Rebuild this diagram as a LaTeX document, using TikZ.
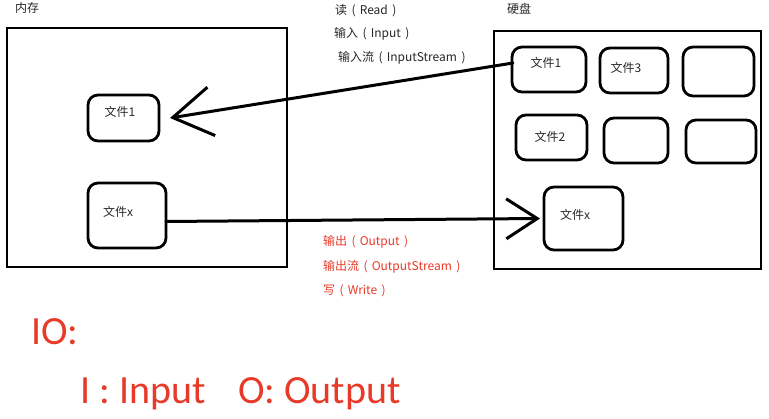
\documentclass[tikz,border=0pt]{standalone}
\usepackage{fontspec}
\setmainfont{Noto Sans CJK SC}
\newfontfamily\bigfont{Carlito}
\usetikzlibrary{arrows.meta,calc}
\definecolor{ioRed}{RGB}{232,58,40}
\definecolor{ioText}{RGB}{40,40,40}
\newcommand{\ioparen}[1]{\hspace{4.5pt}(\hspace{4pt}#1\hspace{4.5pt})}
\begin{document}
\begin{tikzpicture}[x=1pt,y=-1pt,
  bigbox/.style={draw=black,line width=2.8pt,minimum width=#1,inner sep=0pt,outer sep=0pt},
  filebox/.style={draw=black,line width=2.8pt,rounded corners=10pt,inner sep=0pt,outer sep=0pt},
  ftext/.style={font=\fontsize{12}{14}\selectfont,text=ioText,inner sep=0pt},
  lbl/.style={font=\fontsize{12}{14}\selectfont,text=ioText,inner sep=0pt,anchor=base west},
  redlbl/.style={font=\fontsize{12}{14}\selectfont,text=ioRed,inner sep=0pt,anchor=base west},
  bigtxt/.style={font=\bigfont\fontsize{40}{44}\selectfont,text=ioRed,inner sep=0pt,anchor=base west},
  conn/.style={draw=black,line width=3pt,line cap=round}]
\useasboundingbox (0,0) rectangle (769,419);
\fill[white] (0,0) rectangle (769,419);

% big containers
\node[bigbox=280pt,minimum height=239pt] (mem) at (147,147.5) {};
\node[bigbox=267pt,minimum height=238pt] (disk) at (627.5,150) {};
\node[lbl] (memlbl) at (15,13) {内存};
\node[lbl] (disklbl) at (507,14) {硬盘};

% memory files
\node[filebox,minimum width=71pt,minimum height=46pt] (m1) at (123.5,118) {};
\node[filebox,minimum width=78pt,minimum height=65pt] (mx) at (127,215.5) {};
\node[ftext] (tm1) at (120,112) {文件1};
\node[ftext] (tmx) at (118,212) {文件x};

% disk files
\node[filebox,minimum width=74pt,minimum height=45pt] (d1) at (549,69.5) {};
\node[filebox,minimum width=68pt,minimum height=45pt] (d3) at (634,70.5) {};
\node[filebox,minimum width=71pt,minimum height=49pt] (de1) at (718.5,71.5) {};
\node[filebox,minimum width=71pt,minimum height=45pt] (d2) at (551.5,137.5) {};
\node[filebox,minimum width=64pt,minimum height=45pt] (de2) at (636,140.5) {};
\node[filebox,minimum width=70pt,minimum height=43pt] (de3) at (721,141.5) {};
\node[filebox,minimum width=79pt,minimum height=63pt] (dx) at (583.5,218.5) {};
\node[ftext] (td1) at (546,63) {文件1};
\node[ftext] (td3) at (626,68) {文件3};
\node[ftext] (td2) at (550,137) {文件2};
\node[ftext] (tdx) at (575,215) {文件x};

% connectors
\coordinate (rs) at ($(d1.west)+(1,-6.5)$);
\coordinate (re) at ($(m1.east)+(11,0)$);
\draw[conn,-{Straight Barb[length=39pt,width=49pt]}] (rs) -- (re);
\coordinate (ws) at ($(mx.east)+(0,6)$);
\coordinate (we) at ($(dx.west)+(-4,0)$);
\draw[conn,-{Straight Barb[length=31pt,width=40pt]}] (ws) -- (we);

% labels
\node[lbl] (r1) at (335,15) {读\ioparen{Read}};
\node[lbl] (r2) at (334,38) {输入\ioparen{Input}};
\node[lbl] (r3) at (338,62) {输入流\ioparen{InputStream}};
\node[redlbl] (w1) at (323,246) {输出\ioparen{Output}};
\node[redlbl] (w2) at (323,271) {输出流\ioparen{OutputStream}};
\node[redlbl] (w3) at (323,295) {写\ioparen{Write}};

% big text
\node[bigtxt] (io) at (31,345) {IO:};
\node[bigtxt] (ii) at (80,404) {I : Input};
\node[bigtxt] (oo) at (238,404) {O: Output};
\end{tikzpicture}
\end{document}
